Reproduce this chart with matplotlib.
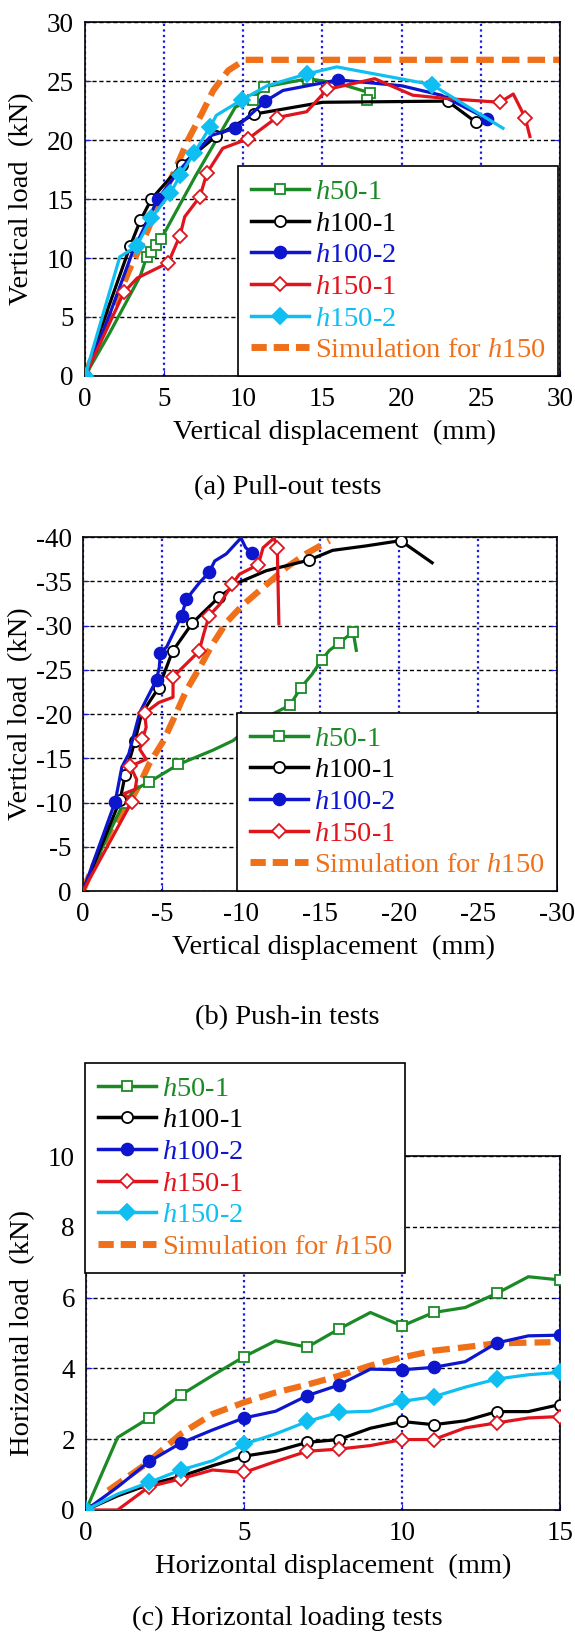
#load-displacement curves, three panels
import matplotlib
matplotlib.use('Agg')
import matplotlib.pyplot as plt
from matplotlib.lines import Line2D

plt.rcParams['font.family'] = ['Liberation Serif', 'DejaVu Serif']
plt.rcParams['mathtext.fontset'] = 'custom'
plt.rcParams['mathtext.rm'] = 'Liberation Serif'
plt.rcParams['mathtext.it'] = 'Liberation Serif:italic'
plt.rcParams['axes.unicode_minus'] = False

# ---------------- data: (a) pull-out tests ----------------
a_h50_1_x = [0, 1.5, 3.5, 3.9, 4.2, 4.5, 4.8, 7.0, 9.5, 10.6, 11.3, 14.1, 16.0, 18.0, 17.8]
a_h50_1_y = [0, 3.5, 8.5, 10.1, 10.5, 11.1, 11.6, 17.0, 22.8, 23.4, 24.5, 25.2, 24.8, 24.0, 23.4]
a_h50_1_mk = [3, 4, 5, 6, 9, 10, 11, 13, 14]

a_h100_1_x = [0, 1.0, 2.85, 3.5, 4.2, 6.1, 8.25, 10.7, 15.0, 22.9, 24.7]
a_h100_1_y = [0, 4.0, 11.0, 13.2, 15.0, 17.9, 20.3, 22.2, 23.2, 23.3, 21.5]
a_h100_1_mk = [0, 2, 3, 4, 5, 6, 7, 9, 10]

a_h100_2_x = [0, 1.5, 3.0, 4.6, 6.0, 8.0, 9.5, 11.4, 12.5, 16.0, 20.0, 22.5, 25.4]
a_h100_2_y = [0, 5.0, 10.5, 15.0, 17.5, 20.4, 21.0, 23.3, 24.2, 25.1, 24.6, 23.8, 21.8]
a_h100_2_mk = [0, 3, 6, 7, 9, 12]

a_h150_1_x = [0, 2.46, 3.3, 5.26, 6.0, 6.3, 7.26, 7.7, 8.7, 10.3, 12.1, 14.0, 15.3, 16.0, 18.3, 20.7, 23.0, 26.2, 27.05, 27.8, 28.1]
a_h150_1_y = [0, 7.1, 8.3, 9.6, 11.9, 13.5, 15.2, 17.2, 19.3, 20.1, 21.9, 22.4, 24.3, 24.5, 25.2, 23.8, 23.5, 23.2, 23.9, 21.9, 20.3]
a_h150_1_mk = [1, 3, 4, 6, 7, 9, 10, 12, 17, 19]

a_h150_2_x = [0, 2.2, 3.26, 4.2, 5.4, 6.0, 6.9, 7.9, 8.3, 9.9, 11.5, 14.0, 15.9, 21.9, 26.4]
a_h150_2_y = [0, 10.1, 11.0, 13.4, 15.5, 17.0, 18.9, 21.1, 22.1, 23.4, 24.6, 25.6, 26.2, 24.7, 21.0]
a_h150_2_mk = [0, 2, 3, 4, 5, 6, 7, 9, 11, 13]

a_sim_x = [0, 0.7, 1.4, 2.0, 2.9, 3.7, 4.5, 5.6, 6.5, 7.4, 8.1, 9.05, 10.1, 30]
a_sim_y = [0, 2.5, 4.7, 6.4, 9.3, 11.5, 14.1, 17.2, 20.0, 22.3, 24.2, 25.9, 26.8, 26.8]

# ---------------- data: (b) push-in tests ----------------
b_h50_1_x = [0, -1.5, -2.56, -3.3, -4.18, -6.03, -8.2, -9.5, -10.8, -12.0, -13.1, -13.8, -14.5, -15.1, -15.6, -16.2, -17.1, -17.3]
b_h50_1_y = [0, -6.0, -9.9, -11.5, -12.3, -14.3, -15.9, -17.0, -18.9, -20.0, -21.0, -23.0, -24.5, -26.1, -27.2, -28.0, -29.3, -27.2]
b_h50_1_mk = [2, 4, 5, 10, 11, 13, 15, 16]

b_h100_1_x = [0, -2.35, -2.67, -3.3, -3.7, -4.8, -5.67, -6.93, -8.6, -9.9, -11.6, -14.3, -15.8, -17.9, -20.1, -22.1]
b_h100_1_y = [0, -10.3, -13.1, -17.0, -20.0, -23.0, -27.1, -30.3, -33.2, -34.9, -36.2, -37.4, -38.5, -39.0, -39.6, -37.1]
b_h100_1_mk = [1, 2, 3, 5, 6, 7, 8, 11, 14]

b_h100_2_x = [0, -2.04, -2.46, -2.9, -3.6, -4.66, -4.83, -4.9, -5.3, -6.24, -6.55, -7.4, -7.98, -8.34, -9.07, -10.0, -10.3, -10.7]
b_h100_2_y = [0, -10.1, -14.0, -15.5, -20.2, -23.9, -25.3, -26.9, -27.6, -31.1, -33.0, -34.9, -36.0, -37.3, -38.1, -39.9, -38.8, -38.2]
b_h100_2_mk = [1, 5, 7, 9, 10, 12, 17]

b_h150_1_x = [0, -3.09, -2.6, -3.3, -3.4, -3.0, -4.0, -3.6, -3.76, -4.0, -3.9, -4.8, -5.7, -5.7, -7.35, -7.65, -7.98, -8.66, -9.45, -9.9, -11.1, -11.4, -12.1, -12.3, -12.4]
b_h150_1_y = [0, -10.1, -11.0, -11.5, -12.6, -14.1, -14.9, -16.0, -17.2, -18.5, -20.1, -21.3, -21.9, -24.2, -27.1, -29.1, -31.1, -32.4, -34.7, -35.8, -36.9, -38.8, -39.9, -38.8, -30.2]
b_h150_1_mk = [1, 5, 8, 10, 13, 14, 16, 18, 20, 23]

b_sim_x = [0, -0.36, -1.1, -1.9, -2.8, -3.6, -4.2, -5.1, -5.8, -6.55, -7.4, -8.2, -9.1, -10.1, -11.4, -12.9, -14.1, -15.6]
b_sim_y = [0, -1.6, -4.6, -7.4, -9.5, -12.1, -14.4, -17.0, -19.7, -22.7, -25.3, -27.9, -30.4, -32.3, -34.3, -36.6, -38.1, -39.6]

# ---------------- data: (c) horizontal loading tests ----------------
c_x = [0, 1, 2, 3, 4, 5, 6, 7, 8, 9, 10, 11, 12, 13, 14, 15]
c_h50_1_y = [0, 2.05, 2.6, 3.25, 3.8, 4.33, 4.78, 4.6, 5.11, 5.58, 5.2, 5.58, 5.72, 6.12, 6.59, 6.5]
c_h100_1_y = [0, 0.4, 0.72, 0.95, 1.25, 1.52, 1.66, 1.91, 1.99, 2.31, 2.5, 2.41, 2.52, 2.78, 2.78, 2.98]
c_h100_2_y = [0, 0.65, 1.37, 1.89, 2.26, 2.6, 2.79, 3.23, 3.53, 3.98, 3.96, 4.03, 4.19, 4.72, 4.92, 4.94]
c_h150_1_y = [0, 0, 0.66, 0.88, 1.13, 1.06, 1.37, 1.66, 1.72, 1.82, 1.99, 1.99, 2.32, 2.46, 2.6, 2.64]
c_h150_2_y = [0, 0.45, 0.78, 1.13, 1.39, 1.86, 2.15, 2.5, 2.76, 2.79, 3.07, 3.2, 3.47, 3.7, 3.82, 3.89]
c_mk = [0, 2, 3, 5, 7, 8, 10, 11, 13, 15]
c_sim_x = [0.7, 1.9, 3.0, 4.0, 5.0, 6.0, 7.0, 8.0, 9.0, 10.0, 11.0, 12.0, 13.0, 14.7]
c_sim_y = [0.55, 1.3, 2.15, 2.71, 3.04, 3.32, 3.54, 3.79, 4.08, 4.31, 4.5, 4.6, 4.71, 4.74]

# ---------------- styles ----------------
GREEN = '#1b8a26'
BLACK = '#000000'
BLUE = '#0d16cc'
RED = '#e0141c'
CYAN = '#10bff2'
ORANGE = '#f0701a'
GRIDBLUE = '#1a1ae6'

styles = {
    'h50-1': dict(color=GREEN, marker='s', mfc='white', ms=7.5),
    'h100-1': dict(color=BLACK, marker='o', mfc='white', ms=8),
    'h100-2': dict(color=BLUE, marker='o', mfc=BLUE, ms=8.5),
    'h150-1': dict(color=RED, marker='D', mfc='white', ms=7.5),
    'h150-2': dict(color=CYAN, marker='D', mfc=CYAN, ms=8),
}
labels = {
    'h50-1': '$\\mathit{h}$50-1',
    'h100-1': '$\\mathit{h}$100-1',
    'h100-2': '$\\mathit{h}$100-2',
    'h150-1': '$\\mathit{h}$150-1',
    'h150-2': '$\\mathit{h}$150-2',
}
SIM_LABEL = 'Simulation for $\\mathit{h}$150'
FS = 20.5


def plot_series(ax, key, x, y, mk, lw=2.3):
    st = styles[key]
    ax.plot(x, y, color=st['color'], lw=lw, marker=st['marker'], ms=st['ms'],
            mfc=st['mfc'], mec=st['color'], mew=1.3, markevery=mk, zorder=3)


def plot_sim(ax, x, y):
    ax.plot(x, y, color=ORANGE, lw=4.5, dashes=(2.8, 1.3), zorder=2.5)


def style_axes(ax, xticks, yticks):
    ax.set_xticks(xticks)
    ax.set_yticks(yticks)
    ax.grid(axis='y', color='black', linestyle=(0, (3, 2)), linewidth=1)
    ax.grid(axis='x', color=GRIDBLUE, linestyle=(0, (1, 1.5)), linewidth=1.6)
    ax.set_axisbelow(True)
    ax.tick_params(direction='in', length=4, color=GRIDBLUE, labelsize=19.5, pad=8,
                   left=True, right=True)
    for sp in ax.spines.values():
        sp.set_linewidth(1.2)


def add_legend(ax, keys, **kw):
    handles = []
    for k in keys:
        st = styles[k]
        handles.append(Line2D([], [], color=st['color'], lw=2.5, marker=st['marker'],
                              ms=st['ms'], mfc=st['mfc'], mec=st['color'], mew=1.3))
    handles.append(Line2D([], [], color=ORANGE, lw=5, dashes=(2.2, 1.0)))
    names = [labels[k] for k in keys] + [SIM_LABEL]
    colors = [styles[k]['color'] for k in keys] + [ORANGE]
    leg = ax.legend(handles, names, fontsize=FS, frameon=True, fancybox=False,
                    framealpha=1, edgecolor='black', borderaxespad=0,
                    handlelength=2.05, handletextpad=0.2, labelspacing=0.2,
                    borderpad=0.45, **kw)
    leg.get_frame().set_linewidth(1.2)
    leg.set_zorder(10)
    for t, c in zip(leg.get_texts(), colors):
        t.set_color(c)
    return leg


fig = plt.figure(figsize=(5.75, 16.34), dpi=100)

# ---- (a) ----
ax = fig.add_axes([0.1478, 0.7699, 0.8261, 0.2166])
plot_series(ax, 'h50-1', a_h50_1_x, a_h50_1_y, a_h50_1_mk)
plot_series(ax, 'h100-1', a_h100_1_x, a_h100_1_y, a_h100_1_mk)
plot_series(ax, 'h100-2', a_h100_2_x, a_h100_2_y, a_h100_2_mk)
plot_series(ax, 'h150-1', a_h150_1_x, a_h150_1_y, a_h150_1_mk)
plot_series(ax, 'h150-2', a_h150_2_x, a_h150_2_y, a_h150_2_mk)
plot_sim(ax, a_sim_x, a_sim_y)
ax.set_xlim(0, 30)
ax.set_ylim(0, 30)
style_axes(ax, range(0, 31, 5), range(0, 31, 5))
ax.set_xlabel('Vertical displacement  (mm)', fontsize=FS)
ax.set_ylabel('Vertical load  (kN)', fontsize=FS)
ax.xaxis.set_label_coords(0.525, -0.125)
ax.yaxis.set_label_coords(-0.108, 0.5)
add_legend(ax, ['h50-1', 'h100-1', 'h100-2', 'h150-1', 'h150-2'],
           loc='lower right', bbox_to_anchor=(0.996, 0.0))

# ---- (b) ----
ax = fig.add_axes([0.1443, 0.4547, 0.8243, 0.2166])
plot_series(ax, 'h50-1', b_h50_1_x, b_h50_1_y, b_h50_1_mk)
plot_series(ax, 'h100-1', b_h100_1_x, b_h100_1_y, b_h100_1_mk)
plot_series(ax, 'h100-2', b_h100_2_x, b_h100_2_y, b_h100_2_mk)
plot_series(ax, 'h150-1', b_h150_1_x, b_h150_1_y, b_h150_1_mk)
plot_sim(ax, b_sim_x, b_sim_y)
ax.set_xlim(0, -30)
ax.set_ylim(0, -40)
style_axes(ax, range(0, -31, -5), range(0, -41, -5))
ax.set_xlabel('Vertical displacement  (mm)', fontsize=FS)
ax.set_ylabel('Vertical load  (kN)', fontsize=FS)
ax.xaxis.set_label_coords(0.528, -0.125)
ax.yaxis.set_label_coords(-0.105, 0.5)
add_legend(ax, ['h50-1', 'h100-1', 'h100-2', 'h150-1'],
           loc='lower right', bbox_to_anchor=(1.0, 0.0))

# ---- (c) ----
ax = fig.add_axes([0.1496, 0.0759, 0.8243, 0.2166])
plot_series(ax, 'h50-1', c_x, c_h50_1_y, c_mk)
plot_series(ax, 'h100-1', c_x, c_h100_1_y, c_mk)
plot_series(ax, 'h100-2', c_x, c_h100_2_y, c_mk)
plot_series(ax, 'h150-1', c_x, c_h150_1_y, c_mk)
plot_series(ax, 'h150-2', c_x, c_h150_2_y, c_mk)
plot_sim(ax, c_sim_x, c_sim_y)
ax.set_xlim(0, 15)
ax.set_ylim(0, 10)
style_axes(ax, range(0, 16, 5), range(0, 11, 2))
ax.set_xlabel('Horizontal displacement  (mm)', fontsize=FS)
ax.set_ylabel('Horizontal load  (kN)', fontsize=FS)
ax.xaxis.set_label_coords(0.521, -0.125)
ax.yaxis.set_label_coords(-0.108, 0.5)
add_legend(ax, ['h50-1', 'h100-1', 'h100-2', 'h150-1', 'h150-2'],
           loc='upper left', bbox_to_anchor=(-0.002, 1.263))

# captions
fig.text(0.5, 1 - 488 / 1634, '(a) Pull-out tests', ha='center', va='center', fontsize=FS)
fig.text(0.5, 1 - 1018 / 1634, '(b) Push-in tests', ha='center', va='center', fontsize=FS)
fig.text(0.5, 1 - 1618 / 1634, '(c) Horizontal loading tests', ha='center', va='center', fontsize=FS)

fig.savefig('out.png', dpi=100)
